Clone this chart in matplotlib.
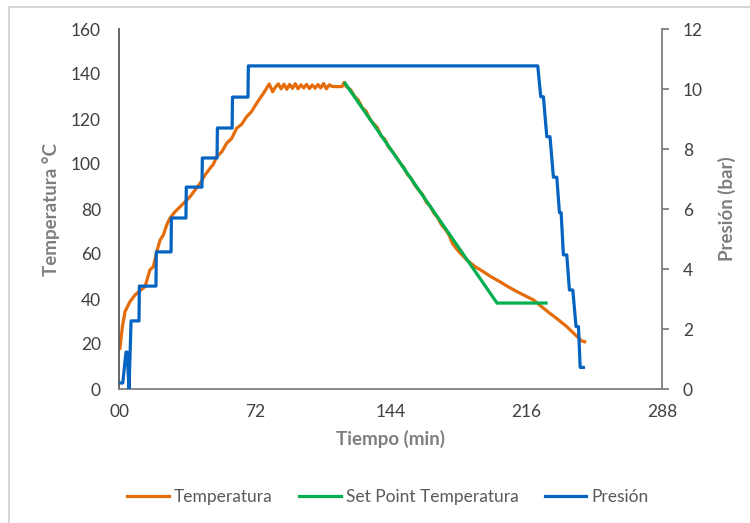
import matplotlib
matplotlib.use("Agg")
import matplotlib.pyplot as plt
from matplotlib.patches import Rectangle

plt.rcParams['font.family'] = ['Lato', 'DejaVu Sans']

# Temperatura (orange)
t_temp = [0.5, 1.8, 3.2, 5.8, 8.5, 11.1, 13.8, 16.4, 18.2, 20.0, 21.8, 23.5, 25.3, 27.0,
          29.7, 32.4, 35.0, 37.7, 40.3, 43.0, 45.6, 48.3, 50.0, 51.8, 54.5, 57.1, 59.8,
          62.4, 65.0, 67.7, 70.3, 73.0, 76.6, 79.7, 81.5, 83.0, 84.5, 86.0, 87.5, 89.0,
          90.5, 92.0, 93.5, 95.0, 96.5, 98.0, 99.5, 101.0, 102.5, 104.0, 105.5, 107.0,
          108.5, 110.0, 111.5, 113.0, 114.5, 118.3, 119.4, 120.5, 121.0, 123.0, 125.0,
          127.0, 129.0, 131.0, 133.0, 135.0, 137.0, 139.0, 141.0, 143.0, 145.0, 147.0,
          149.0, 151.0, 153.0, 155.0, 157.0, 159.0, 161.0, 163.0, 165.0, 167.0, 169.0,
          171.0, 173.0, 175.0, 177.0, 180.0, 184.5, 189.0, 193.3, 197.5, 202.0, 206.5,
          211.0, 215.5, 219.8, 224.0, 228.6, 233.0, 237.5, 241.5, 245.5, 247.0]
temp = [18.1, 27.7, 34.4, 38.8, 41.8, 43.7, 45.5, 52.9, 54.4, 61.0, 66.2, 68.4, 72.9, 75.9,
        78.8, 81.0, 83.2, 85.5, 88.4, 91.4, 95.1, 98.1, 99.8, 103.2, 105.4, 109.2, 111.4,
        115.9, 117.6, 121.0, 123.3, 127.0, 131.4, 135.6, 132.1, 134.2, 135.6, 133.4, 135.5,
        133.2, 135.4, 133.6, 135.7, 133.4, 135.2, 133.8, 135.4, 133.5, 135.1, 133.7, 135.3,
        133.8, 135.8, 133.4, 135.2, 134.5, 134.4, 134.4, 136.3, 134.5, 134.2, 132.8, 130.0,
        128.3, 125.0, 123.5, 120.0, 118.0, 116.2, 112.5, 111.0, 107.5, 105.6, 103.2, 100.6,
        98.5, 95.3, 93.5, 90.5, 88.3, 86.5, 83.0, 81.3, 78.2, 76.2, 73.0, 71.0, 68.5, 64.5,
        61.3, 57.3, 54.3, 52.1, 49.8, 47.7, 45.4, 43.3, 41.4, 39.6, 36.7, 33.6, 30.8, 27.7,
        24.5, 21.3, 21.0]

# Set Point Temperatura (green)
t_sp = [119.9, 200.5, 226.5]
sp = [135.9, 38.2, 38.2]

# Presión (blue, right axis)
t_pres = [0.0, 2.0, 3.7, 4.3, 5.3, 6.4, 10.6, 10.8, 19.6, 19.8, 27.6, 27.8, 35.5, 35.7,
          44.0, 44.2, 52.0, 52.2, 60.0, 60.2, 68.4, 68.6, 222.1, 223.7, 225.1, 226.9,
          228.6, 230.4, 232.2, 233.6, 234.5, 235.7, 237.5, 238.9, 240.7, 242.4, 243.7,
          244.6, 246.3]
pres = [0.2, 0.2, 1.23, 1.23, 0.0, 2.27, 2.27, 3.43, 3.43, 4.57, 4.57, 5.7, 5.7, 6.73,
        6.73, 7.7, 7.7, 8.7, 8.7, 9.73, 9.73, 10.77, 10.77, 9.74, 9.74, 8.41, 8.41, 7.06,
        7.06, 5.88, 5.88, 4.47, 4.47, 3.3, 3.3, 2.08, 2.08, 0.72, 0.72]

x_ticks = [0, 72, 144, 216, 288]
x_labels = ["00", "72", "144", "216", "288"]

c_orange = "#E46C0A"
c_green = "#00B050"
c_blue = "#0563C1"
c_axis = "#7F7F7F"
c_text = "#404040"

fig = plt.figure(figsize=(7.5, 5.23), dpi=100)
fig.patch.set_facecolor("white")
fig.patches.append(Rectangle((9 / 750, -0.05), 1.1, 1 - 7 / 523 + 0.05, transform=fig.transFigure,
                             fill=False, edgecolor="#D0D0D0", linewidth=1.2))

ax = fig.add_axes([119 / 750, 1 - 389 / 523, 543 / 750, 360 / 523])
ax2 = ax.twinx()

l1, = ax.plot(t_temp, temp, color=c_orange, lw=2.3, label="Temperatura")
l2, = ax.plot(t_sp, sp, color=c_green, lw=2.3, label="Set Point Temperatura")
l3, = ax2.plot(t_pres, pres, color=c_blue, lw=2.3, label="Presión")

ax.set_xlim(0, 288)
ax.set_ylim(0, 160)
ax2.set_ylim(0, 12)
ax.set_xticks(x_ticks)
ax.set_xticklabels(x_labels)
ax.set_yticks(range(0, 161, 20))
ax2.set_yticks(range(0, 13, 2))

for s in ["top", "right"]:
    ax.spines[s].set_visible(False)
for s in ["top", "left", "bottom"]:
    ax2.spines[s].set_visible(False)
ax.spines["left"].set_color("#595959")
ax.spines["bottom"].set_color(c_axis)
ax2.spines["right"].set_color(c_axis)
for sp_ in [ax.spines["left"], ax.spines["bottom"], ax2.spines["right"]]:
    sp_.set_linewidth(1.3)

ax.tick_params(axis="y", length=0, pad=13, labelsize=12.5, labelcolor=c_text)
ax.tick_params(axis="x", length=0, pad=11, labelsize=12.5, labelcolor=c_text)
ax2.tick_params(axis="y", length=5, width=1.3, color=c_axis, pad=10, labelsize=12.5,
                labelcolor=c_text)

ax.set_xlabel("Tiempo (min)", fontsize=13.5, fontweight="bold", color=c_axis, labelpad=7)
ax.set_ylabel("Temperatura °C", fontsize=13.5, fontweight="bold", color=c_axis, labelpad=8)
ax2.set_ylabel("Presión (bar)", fontsize=13.5, fontweight="bold", color=c_axis, labelpad=11)

fig.legend(handles=[l1, l2, l3], loc="center", bbox_to_anchor=(388 / 750, 1 - 497 / 523),
           ncol=3, frameon=False, fontsize=12.5, labelcolor="#595959",
           handlelength=2.4, handletextpad=0.3, columnspacing=1.5)

fig.savefig("out.png", dpi=100)
